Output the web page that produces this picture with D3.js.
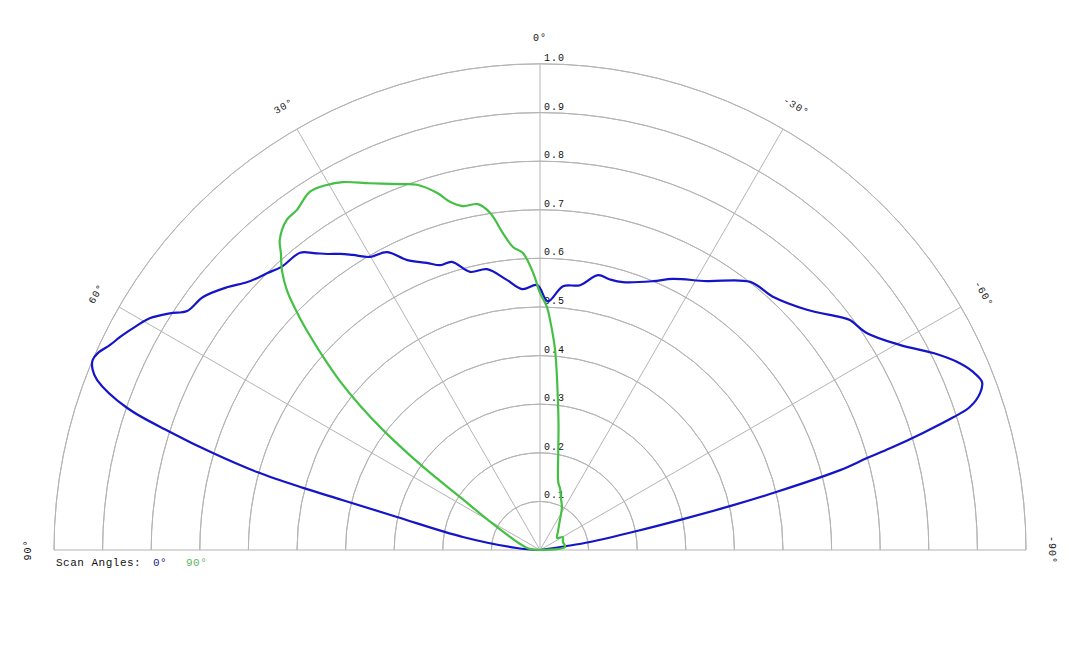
<!DOCTYPE html>
<html>
<head>
<meta charset="utf-8">
<script src="https://cdn.jsdelivr.net/npm/d3@7"></script>
<style>
  body { margin: 0; background: #fff; }
  text { font-family: "Liberation Mono", "Courier New", monospace; fill: #111; }
</style>
</head>
<body>
<div id="chart"></div>
<script>
// rings and spokes
const ringTicks = [0.1, 0.2, 0.3, 0.4, 0.5, 0.6, 0.7, 0.8, 0.9, 1.0];
const spokeAngles = [90, 60, 30, 0, -30, -60, -90];
const scanNames = ["0°", "90°"];

// scan 0 deg (blue) : angle in degrees (+ left), normalised value
const blueAngles = [90, 85, 80.4, 77, 75.8, 75.3, 74.6, 73.5, 72.3, 71, 69, 68, 67, 66, 64.5, 63, 61,
  59.3, 57.4, 55.9, 53.1, 50, 47.6, 45.7, 44.6, 42.4, 38.9, 37.3, 35.7, 34, 32.4, 30.1, 27.2,
  24.6, 21.5, 19.3, 17, 14.1, 10.7, 7, 3.9, 0.6, -1.8, -5, -8.6, -11.9, -14.5, -17.2, -22.8,
  -26.1, -31.8, -38.1, -42.6, -48, -52.2, -53.4, -56.4, -60.3, -63.4, -65.7, -67.6, -69.2,
  -70.4, -71.6, -72.2, -73, -73.8, -74.3, -75.1, -76.2, -77, -77.8, -78.9, -80.9, -81.6, -90];
const blueValues = [0, 0.048, 0.161, 0.302, 0.42, 0.504, 0.604, 0.702, 0.799, 0.899, 0.976, 0.993,
  1.0, 0.996, 0.98, 0.968, 0.95, 0.934, 0.904, 0.877, 0.867, 0.841, 0.817, 0.805, 0.8, 0.789,
  0.786, 0.768, 0.75, 0.735, 0.719, 0.697, 0.689, 0.656, 0.635, 0.621, 0.62, 0.59, 0.588, 0.56,
  0.538, 0.545, 0.512, 0.545, 0.551, 0.578, 0.575, 0.577, 0.6, 0.621, 0.651, 0.701, 0.708,
  0.739, 0.782, 0.794, 0.807, 0.852, 0.905, 0.941, 0.963, 0.973, 0.961, 0.932, 0.893, 0.824,
  0.75, 0.699, 0.639, 0.502, 0.401, 0.301, 0.203, 0.104, 0.056, 0];

// scan 90 deg (green)
const greenAngles = [90, 81, 61.9, 56.5, 54.6, 52.6, 51.3, 49.8, 48.3, 47, 45.9, 44.3, 42.7, 41.1,
  40, 37.5, 35.6, 32.7, 30.3, 28.2, 24.9, 20.9, 18.6, 16.1, 14.5, 12.6, 10.2, 8.4, 6.7, 5.1, 3.3,
  1.4, 0, -1.65, -2.5, -4.3, -6.8, -8.5, -10.5, -14.4, -16, -17.9, -22, -27.1, -35, -45, -54.8,
  -60.5, -70, -83, -90];
const greenValues = [0, 0.027, 0.1, 0.197, 0.295, 0.407, 0.473, 0.54, 0.598, 0.648, 0.69, 0.745,
  0.783, 0.811, 0.833, 0.856, 0.86, 0.876, 0.87, 0.859, 0.832, 0.806, 0.793, 0.765, 0.74, 0.725,
  0.723, 0.701, 0.657, 0.626, 0.612, 0.57, 0.529, 0.5, 0.474, 0.413, 0.311, 0.258, 0.206, 0.149,
  0.14, 0.134, 0.115, 0.099, 0.07, 0.052, 0.043, 0.054, 0.05, 0.052, 0];

const width = 1080, height = 648;
const cx = 540, cy = 550, R = 486;

const svg = d3.select("#chart").append("svg")
  .attr("width", width)
  .attr("height", height);

const g = svg.append("g").attr("transform", "translate(" + cx + "," + cy + ")");

const r = d3.scaleLinear().domain([0, 1]).range([0, R]);
// +90 (left) .. -90 (right), d3 angles are clockwise from 12 o'clock
const ang = d3.scaleLinear().domain([-90, 90]).range([Math.PI / 2, -Math.PI / 2]);

// concentric half rings
g.selectAll("path.ring")
  .data(ringTicks)
  .enter().append("path")
  .attr("class", "ring")
  .attr("d", d => d3.arc()({innerRadius: r(d), outerRadius: r(d),
                           startAngle: -Math.PI / 2, endAngle: Math.PI / 2}))
  .attr("fill", "none")
  .attr("stroke", "#b4b4b4")
  .attr("stroke-width", 1);

// spokes
g.selectAll("line.spoke")
  .data(spokeAngles)
  .enter().append("line")
  .attr("class", "spoke")
  .attr("x1", 0).attr("y1", 0)
  .attr("x2", d => r(1) * Math.sin(ang(d)))
  .attr("y2", d => -r(1) * Math.cos(ang(d)))
  .attr("stroke", "#b4b4b4")
  .attr("stroke-width", 1);

// ring labels along the 0 spoke
g.selectAll("text.rlab")
  .data(ringTicks)
  .enter().append("text")
  .attr("class", "rlab")
  .attr("x", 4)
  .attr("y", d => -r(d) - 3)
  .attr("font-size", 10)
  .attr("letter-spacing", 1)
  .text(d => d.toFixed(1));

// angle labels
const labR = R + 26;
g.selectAll("text.alab")
  .data(spokeAngles)
  .enter().append("text")
  .attr("class", "alab")
  .attr("text-anchor", "middle")
  .attr("dominant-baseline", "middle")
  .attr("font-size", 10)
  .attr("letter-spacing", 1)
  .attr("transform", d => {
    const a = ang(d);
    const x = labR * Math.sin(a), y = -labR * Math.cos(a);
    return "translate(" + x + "," + y + ") rotate(" + (a * 180 / Math.PI) + ")";
  })
  .text(d => d + "°");

// curves
const line = d3.lineRadial()
  .angle(d => ang(d[0]))
  .radius(d => r(d[1]))
  .curve(d3.curveCatmullRom);

const series = [
  {angles: blueAngles, values: blueValues, color: "#1414c8"},
  {angles: greenAngles, values: greenValues, color: "#44c044"}
];

g.selectAll("path.scan")
  .data(series)
  .enter().append("path")
  .attr("class", "scan")
  .attr("d", s => line(s.angles.map((a, i) => [a, s.values[i]])))
  .attr("fill", "none")
  .attr("stroke", s => s.color)
  .attr("stroke-width", 2.2)
  .attr("stroke-linejoin", "round");

// legend
const legend = svg.append("g").attr("transform", "translate(56,566)");
legend.append("text")
  .attr("font-size", 11)
  .attr("letter-spacing", 0.5)
  .text("Scan Angles:");
legend.selectAll("text.key")
  .data(scanNames)
  .enter().append("text")
  .attr("class", "key")
  .attr("x", (d, i) => 97 + i * 33)
  .attr("font-size", 11)
  .attr("letter-spacing", 0.5)
  .style("fill", (d, i) => i === 0 ? "#22228c" : "#5cb85c")
  .text(d => d);
</script>
</body>
</html>
